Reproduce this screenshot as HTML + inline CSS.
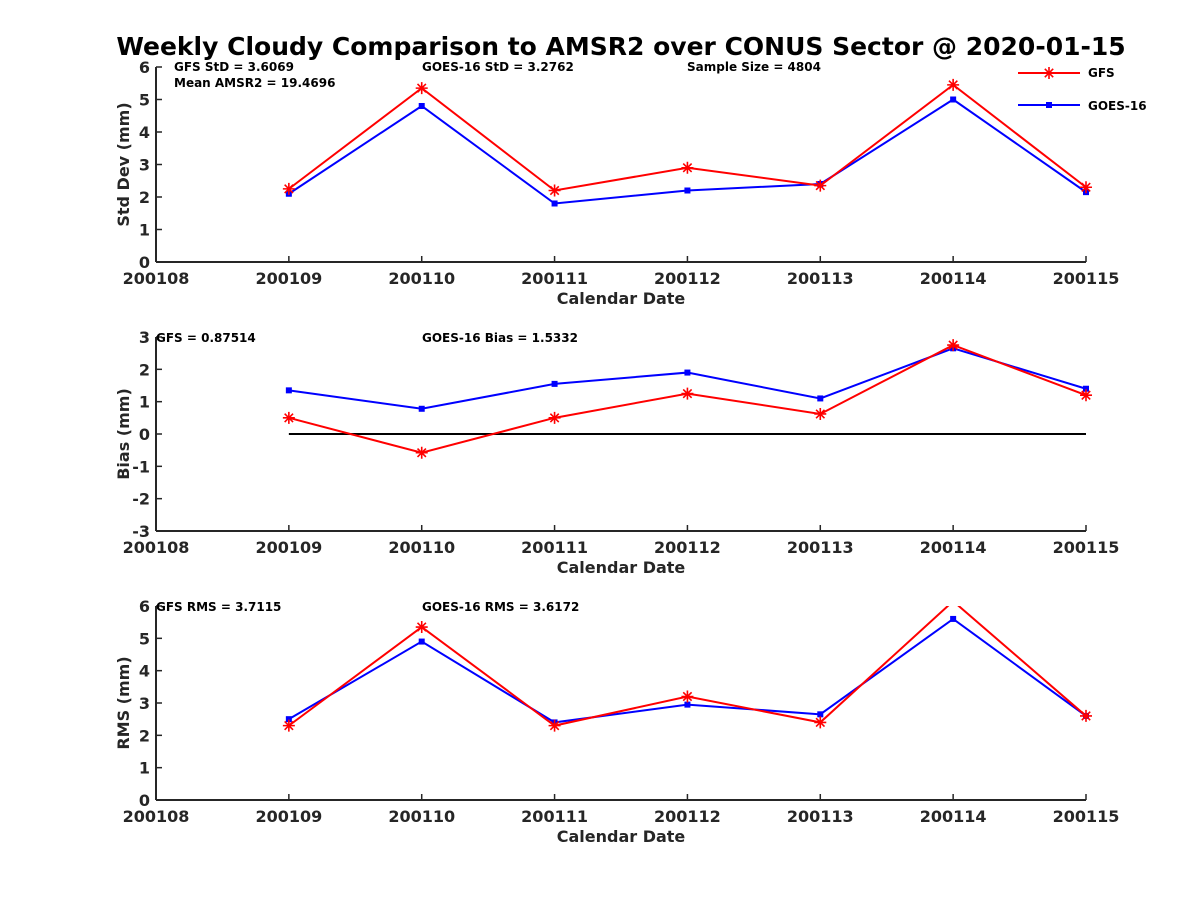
<!DOCTYPE html>
<html><head><meta charset="utf-8"><style>
html,body{margin:0;padding:0;background:#fff;}
svg{display:block;font-family:"DejaVu Sans","Liberation Sans",sans-serif;font-weight:bold;}
</style></head><body>
<svg id="chart" width="1200" height="900" viewBox="0 0 1200 900">
<text x="621" y="55" text-anchor="middle" font-size="25">Weekly Cloudy Comparison to AMSR2 over CONUS Sector @ 2020-01-15</text>
<g>
<line x1="1018" y1="73" x2="1080" y2="73" stroke="#f00" stroke-width="2"/>
<g stroke="#f00" stroke-width="1.6">
<line x1="1049" y1="67" x2="1049" y2="79"/><line x1="1043" y1="73" x2="1055" y2="73"/>
<line x1="1044.8" y1="68.8" x2="1053.2" y2="77.2"/><line x1="1044.8" y1="77.2" x2="1053.2" y2="68.8"/>
</g>
<text x="1088" y="77" font-size="12">GFS</text>
<line x1="1018" y1="105" x2="1080" y2="105" stroke="#00f" stroke-width="2"/>
<rect x="1046" y="102" width="6" height="6" fill="#00f"/>
<text x="1088" y="110" font-size="12">GOES-16</text>
</g>
</svg>
<script>
const categories = ["200108","200109","200110","200111","200112","200113","200114","200115"];
const stdGFS  = [null,2.25,5.35,2.2,2.9,2.35,5.45,2.3];
const stdGOES = [null,2.1,4.8,1.8,2.2,2.4,5.0,2.15];
const biasGFS  = [null,0.5,-0.58,0.5,1.25,0.62,2.75,1.2];
const biasGOES = [null,1.35,0.78,1.55,1.9,1.1,2.65,1.4];
const rmsGFS  = [null,2.3,5.35,2.3,3.2,2.4,6.15,2.6];
const rmsGOES = [null,2.5,4.9,2.4,2.95,2.65,5.6,2.6];
const stdTicks = [0,1,2,3,4,5,6];
const biasTicks = [-3,-2,-1,0,1,2,3];
const rmsTicks = [0,1,2,3,4,5,6];

const NS="http://www.w3.org/2000/svg";
const svg=document.getElementById('chart');
function mk(tag,attrs,parent){const e=document.createElementNS(NS,tag);for(const k in attrs)e.setAttribute(k,attrs[k]);(parent||svg).appendChild(e);return e;}
const X0=156,X1=1086;
function xs(i){return X0+(X1-X0)*i/(categories.length-1);}

function panel(name,top,bottom,ticks,ylabel,gfs,goes,notes,zeroLine){
  const g=mk('g',{});
  
  
  const ymin=ticks[0],ymax=ticks[ticks.length-1];
  const ys=v=>bottom-(v-ymin)/(ymax-ymin)*(bottom-top);
  const cp=mk('clipPath',{id:'clip-'+name},g);
  mk('rect',{x:X0,y:top,width:X1-X0+10,height:bottom-top},cp);
  ticks.forEach(t=>{
    mk('line',{x1:X0,y1:ys(t),x2:X0+6,y2:ys(t),stroke:'#262626','stroke-width':1.5},g);
    const tx=mk('text',{x:X0-6,y:ys(t)+6,'text-anchor':'end','font-size':16,fill:'#262626'},g);
    tx.textContent=t;
    
    
  });
  categories.forEach((c,i)=>{
    mk('line',{x1:xs(i),y1:bottom,x2:xs(i),y2:bottom-6,stroke:'#262626','stroke-width':1.5},g);
    const tx=mk('text',{x:xs(i),y:bottom+22,'text-anchor':'middle','font-size':16,fill:'#262626'},g);
    tx.textContent=c;
    
    
  });
  mk('line',{x1:X0,y1:top,x2:X0,y2:bottom,stroke:'#262626','stroke-width':2},g);
  mk('line',{x1:X0,y1:bottom,x2:X1,y2:bottom,stroke:'#262626','stroke-width':2},g);
  const xl=mk('text',{x:621,y:bottom+42,'text-anchor':'middle','font-size':16,fill:'#262626'},g);
  xl.textContent='Calendar Date';
  
  
  const yc=(top+bottom)/2;
  const yl=mk('text',{x:129,y:yc,'text-anchor':'middle','font-size':16,fill:'#262626',transform:`rotate(-90 129 ${yc})`},g);
  yl.textContent=ylabel;
  
  
  if(zeroLine){
    const z=mk('line',{x1:xs(1),y1:ys(0),x2:xs(7),y2:ys(0),stroke:'#000','stroke-width':2},g);
    
    
  }
  notes.forEach(n=>{
    const t=mk('text',{x:n[0],y:top+n[1],'font-size':12},g);
    t.textContent=n[2];
    
    
  });
  [[goes,'#00f','goes16'],[gfs,'#f00','gfs']].forEach(([d,col,sn])=>{
    const pts=[];d.forEach((v,i)=>{if(v!==null)pts.push([xs(i),ys(v)]);});
    const pl=mk('polyline',{points:pts.map(p=>p.join(',')).join(' '),fill:'none',stroke:col,'stroke-width':2,'clip-path':`url(#clip-${name})`},g);
    
    
    pts.forEach(p=>{
      if(p[1]<top-1)return;
      let m;
      if(sn==='gfs'){
        const r=6,q=4.2,[x,y]=p;
        m=mk('path',{d:`M${x} ${y-r}V${y+r}M${x-r} ${y}H${x+r}M${x-q} ${y-q}L${x+q} ${y+q}M${x-q} ${y+q}L${x+q} ${y-q}`,stroke:col,'stroke-width':1.6,fill:'none'},g);
      } else {
        m=mk('rect',{x:p[0]-3,y:p[1]-3,width:6,height:6,fill:col},g);
      }
      
      
    });
  });
}
panel('std',67,262,stdTicks,'Std Dev (mm)',stdGFS,stdGOES,
  [[174,4,'GFS StD = 3.6069'],[174,20,'Mean AMSR2 = 19.4696'],[422,4,'GOES-16 StD = 3.2762'],[687,4,'Sample Size = 4804']],false);
panel('bias',337,531,biasTicks,'Bias (mm)',biasGFS,biasGOES,
  [[156,5,'GFS = 0.87514'],[422,5,'GOES-16 Bias  = 1.5332']],true);
panel('rms',606,800,rmsTicks,'RMS (mm)',rmsGFS,rmsGOES,
  [[156,5,'GFS RMS = 3.7115'],[422,5,'GOES-16 RMS = 3.6172']],false);
</script>
</body></html>
